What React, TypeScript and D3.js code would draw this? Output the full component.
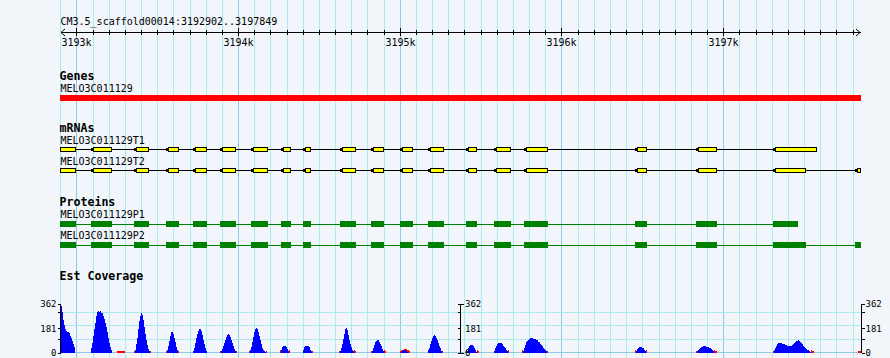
import React from "react";
import * as d3 from "d3";

const W = 890;
const H = 358;

// ---- data ----
const REF_NAME = "CM3.5_scaffold00014";
const VIEW_START = 3192902;
const VIEW_END = 3197849;
const majorTicks = [3193000, 3194000, 3195000, 3196000, 3197000];
const majorTickLabels = ["3193k", "3194k", "3195k", "3196k", "3197k"];

const geneName = "MELO3C011129";
const geneSpan: [number, number] = [3192800, 3197950];

const sharedExons: [number, number][] = [
  [3192850, 3192998], [3193089, 3193218], [3193356, 3193451], [3193552, 3193634],
  [3193723, 3193805], [3193888, 3193987], [3194077, 3194186], [3194265, 3194325],
  [3194403, 3194454], [3194629, 3194732], [3194821, 3194903], [3195000, 3195079],
  [3195175, 3195274], [3195408, 3195480], [3195581, 3195690], [3195766, 3195919],
  [3196452, 3196531], [3196834, 3196963],
];
const mrnaNames = ["MELO3C011129T1", "MELO3C011129T2"];
const t1Exons: [number, number][] = [...sharedExons, [3197311, 3197582]];
const t2Exons: [number, number][] = [...sharedExons, [3197311, 3197514], [3197812, 3197880]];
const t1Span: [number, number] = [3192850, 3197582];
const t2Span: [number, number] = [3192850, 3197880];

const proteinNames = ["MELO3C011129P1", "MELO3C011129P2"];
const p1Cds: [number, number][] = [...sharedExons, [3197311, 3197464]];
const p2Cds: [number, number][] = [...sharedExons, [3197311, 3197514], [3197812, 3197880]];
const p1Span: [number, number] = [3192850, 3197464];
const p2Span: [number, number] = [3192850, 3197880];

const COV_MAX = 362;
const covTickValues = [0, 100, 181, 300, 362];
const covLabels = ["362", "181", "0"];
const covLabelValues = [362, 181, 0];
const covGridValues = [100, 200, 300];
const BIN = 6.18; // bp per coverage bin

type Seg = { start: number; values: number[] };
const estCoverage: Seg[] = [
  { start: 3192902, values: [362, 340, 300, 240, 200, 175, 160, 150, 155, 145, 125, 105, 85, 65, 40] },
  { start: 3193090, values: [30, 70, 120, 170, 220, 270, 300, 305, 300, 305, 295, 290, 270, 245, 220, 190, 150, 110, 70, 40, 20] },
  { start: 3193362, values: [20, 60, 110, 170, 230, 270, 290, 280, 240, 190, 140, 95, 55, 25, 8] },
  { start: 3193560, values: [15, 45, 85, 125, 150, 155, 140, 110, 75, 40, 15] },
  { start: 3193721, values: [10, 35, 70, 105, 135, 160, 170, 172, 160, 130, 95, 60, 35, 12] },
  { start: 3193894, values: [10, 25, 45, 70, 95, 115, 130, 135, 128, 115, 95, 70, 45, 25, 10] },
  { start: 3194076, values: [15, 40, 75, 115, 150, 172, 178, 170, 150, 120, 90, 60, 35, 20, 10, 5] },
  { start: 3194268, values: [20, 38, 45, 45, 45, 40, 25, 10] },
  { start: 3194404, values: [15, 40, 45, 45, 45, 45, 40, 20, 8] },
  { start: 3194632, values: [10, 30, 60, 100, 140, 170, 180, 165, 130, 95, 65, 40, 20, 8] },
  { start: 3194830, values: [10, 30, 55, 75, 88, 92, 90, 80, 65, 45, 28, 12] },
  { start: 3195009, values: [5, 12, 20, 22, 20, 12, 5] },
  { start: 3195176, values: [15, 35, 60, 85, 105, 120, 128, 125, 110, 90, 70, 50, 30, 12] },
  { start: 3195417, values: [10, 30, 50, 58, 58, 55, 45, 30, 15, 5] },
  { start: 3195584, values: [10, 30, 50, 62, 70, 70, 70, 68, 60, 50, 40, 30, 18, 8] },
  { start: 3195763, values: [10, 30, 55, 75, 88, 95, 100, 105, 108, 105, 100, 100, 98, 95, 90, 80, 75, 65, 55, 45, 35, 25, 15, 8] },
  { start: 3196462, values: [10, 25, 35, 40, 40, 38, 35, 30, 20, 10] },
  { start: 3196839, values: [8, 18, 28, 35, 40, 42, 45, 48, 45, 42, 40, 38, 35, 30, 25, 18, 10] },
  { start: 3197315, values: [15, 35, 50, 60, 68, 70, 70, 70, 65, 62, 60, 55, 52, 50, 48, 48, 48, 50, 55, 60, 68, 75, 82, 88, 90, 88, 80, 70, 60, 50, 40, 30, 25, 20, 15, 10, 5] },
];
const estCoverageOther: Seg[] = [
  { start: 3193254, values: [8, 8, 8, 8, 8, 8, 8, 8] },
  { start: 3193356, values: [12] }, { start: 3193455, values: [10] },
  { start: 3193554, values: [10] }, { start: 3193628, values: [10] },
  { start: 3193888, values: [12] }, { start: 3193987, values: [12] },
  { start: 3194070, values: [12] }, { start: 3194175, values: [10] },
  { start: 3194262, values: [15] }, { start: 3194317, values: [15] },
  { start: 3194460, values: [12] },
  { start: 3194626, values: [12] }, { start: 3194718, values: [15, 8] },
  { start: 3194824, values: [12] }, { start: 3194904, values: [15, 8] },
  { start: 3195000, values: [12, 18, 22, 20, 25, 28, 26, 22, 20, 14] },
  { start: 3195263, values: [10] },
  { start: 3195411, values: [15] }, { start: 3195479, values: [15, 8] },
  { start: 3195671, values: [15] },
  { start: 3195757, values: [15] }, { start: 3195911, values: [12] },
  { start: 3196456, values: [15] }, { start: 3196524, values: [15] },
  { start: 3196833, values: [12] }, { start: 3196944, values: [15, 12, 8] },
  { start: 3197309, values: [12] }, { start: 3197544, values: [18, 12, 8] },
  { start: 3197831, values: [10, 10, 10] },
];

// ---- style ----
const BG = "#f2f5fa";
const GRID = "#aaebf0";
const GRID_MAJOR = "#8ecbe4";
const MONO = "'DejaVu Sans Mono', monospace";

export default function App() {
  const xs = d3.scaleLinear().domain([VIEW_START, VIEW_END]).range([60.5, 860.5]);
  const LEFT = 60;
  const RIGHT = 861;
  const cx = (v: number) => Math.max(LEFT, Math.min(RIGHT, xs(v)));
  const ys = d3.scaleLinear().domain([0, COV_MAX]).range([352.5, 303.5]);

  const gridBps = d3.range(3192900, VIEW_END + 1, 100);

  const rulerY = 32.5;

  const transcript = (exons: [number, number][], span: [number, number], cy: number, key: string) => (
    <g key={key}>
      <line x1={cx(span[0])} x2={cx(span[1])} y1={cy} y2={cy} stroke="#000" strokeWidth={1} />
      {exons.map(([s, e], i) => {
        const x0 = cx(s);
        const x1 = cx(e);
        const notch = xs(s) >= LEFT;
        const bx = notch ? x0 + 2 : x0;
        return (
          <g key={i}>
            {notch && <rect x={x0} y={cy - 1.5} width={2.5} height={3} fill="#000" />}
            <rect x={bx + 0.5} y={cy - 2} width={Math.max(1, x1 - bx - 1)} height={4} fill="#ffff00" stroke="#000" strokeWidth={1} />
          </g>
        );
      })}
    </g>
  );

  const protein = (cds: [number, number][], span: [number, number], cy: number, key: string) => (
    <g key={key}>
      <line x1={cx(span[0])} x2={cx(span[1])} y1={cy} y2={cy} stroke="#008000" strokeWidth={1} />
      {cds.map(([s, e], i) => (
        <rect key={i} x={cx(s)} y={cy - 3} width={cx(e) - cx(s)} height={6} fill="#008000" />
      ))}
    </g>
  );

  const bars = (segs: Seg[], color: string) =>
    segs.flatMap((seg, si) =>
      seg.values.map((v, i) => {
        const x0 = cx(seg.start + i * BIN);
        const x1 = cx(seg.start + (i + 1) * BIN);
        if (x1 <= x0) return null;
        return (
          <rect key={`${color}-${si}-${i}`} x={x0} width={x1 - x0} y={ys(v)} height={ys(0) - ys(v)} fill={color} />
        );
      })
    );

  const axis = (ax: number, side: "left" | "mid" | "right", key: string) => (
    <g key={key} stroke="#000" strokeWidth={1}>
      <line x1={ax} x2={ax} y1={ys(COV_MAX)} y2={ys(0)} />
      {covTickValues.map((v) => {
        const y = Math.round(ys(v)) + 0.5;
        const end = v === 0 || v === COV_MAX;
        let x1 = ax, x2 = ax;
        if (side === "left") { x1 = ax - 3; x2 = ax; }
        else if (side === "right") { x1 = ax; x2 = ax + 3; }
        else { x1 = ax - 3; x2 = end ? ax + 3 : ax; }
        return <line key={v} x1={x1} x2={x2} y1={y} y2={y} />;
      })}
    </g>
  );

  const axisLabels = (lx: number, anchor: "start" | "end", key: string) => (
    <g key={key}>
      {covLabels.map((t, i) => (
        <text key={t} x={lx} y={ys(covLabelValues[i]) + 3.5} fontFamily={MONO} fontSize={9} textAnchor={anchor} fill="#000">
          {t}
        </text>
      ))}
    </g>
  );

  return (
    <svg width={W} height={H} style={{ position: "fixed", left: 0, top: 0 }} xmlns="http://www.w3.org/2000/svg">
      <rect x={0} y={0} width={W} height={H} fill={BG} />
      {/* vertical grid */}
      <g shapeRendering="crispEdges">
        {gridBps.map((bp) => {
          const x = Math.round(xs(bp)) + 0.5;
          return <line key={bp} x1={x} x2={x} y1={0} y2={H} stroke={bp % 1000 === 0 ? GRID_MAJOR : GRID} strokeWidth={1} />;
        })}
        {covGridValues.map((v) => {
          const y = Math.round(ys(v)) + 0.5;
          return <line key={v} x1={LEFT} x2={RIGHT} y1={y} y2={y} stroke={GRID} strokeWidth={1} />;
        })}
        <line x1={LEFT} x2={RIGHT} y1={352.5} y2={352.5} stroke={GRID_MAJOR} strokeWidth={1} />
      </g>

      {/* ruler */}
      <text x={60.5} y={25} fontFamily={MONO} fontSize={10} fill="#000">
        {`${REF_NAME}:${VIEW_START}..${VIEW_END}`}
      </text>
      <g stroke="#000" strokeWidth={1} fill="none" shapeRendering="crispEdges">
        <line x1={60.5} x2={860.5} y1={rulerY} y2={rulerY} />
        {gridBps.filter((bp) => bp >= VIEW_START).map((bp) => {
          const x = Math.round(xs(bp)) + 0.5;
          const major = bp % 1000 === 0;
          return <line key={bp} x1={x} x2={x} y1={major ? 28 : 30} y2={major ? 36 : 35} />;
        })}
      </g>
      <path d={`M65,29 L61,32.5 L65,36`} stroke="#000" strokeWidth={1} fill="none" />
      <path d={`M856,29 L860,32.5 L856,36`} stroke="#000" strokeWidth={1} fill="none" />
      {majorTicks.map((bp, i) => (
        <text key={bp} x={Math.round(xs(bp)) + 0.5} y={46} fontFamily={MONO} fontSize={10} textAnchor="middle" fill="#000">
          {majorTickLabels[i]}
        </text>
      ))}

      {/* Genes */}
      <text x={59.5} y={80} fontFamily={MONO} fontSize={11.6} fontWeight="bold" fill="#000">Genes</text>
      <text x={60.5} y={92} fontFamily={MONO} fontSize={10} fill="#000">{geneName}</text>
      <rect x={cx(geneSpan[0])} y={95} width={cx(geneSpan[1]) - cx(geneSpan[0])} height={6} fill="#ff0000" />

      {/* mRNAs */}
      <text x={59.5} y={132} fontFamily={MONO} fontSize={11.6} fontWeight="bold" fill="#000">mRNAs</text>
      <text x={60.5} y={144} fontFamily={MONO} fontSize={10} fill="#000">{mrnaNames[0]}</text>
      <text x={60.5} y={165} fontFamily={MONO} fontSize={10} fill="#000">{mrnaNames[1]}</text>
      <g shapeRendering="crispEdges">
        {transcript(t1Exons, t1Span, 149.5, "t1")}
        {transcript(t2Exons, t2Span, 170.5, "t2")}
      </g>

      {/* Proteins */}
      <text x={59.5} y={206} fontFamily={MONO} fontSize={11.6} fontWeight="bold" fill="#000">Proteins</text>
      <text x={60.5} y={218} fontFamily={MONO} fontSize={10} fill="#000">{proteinNames[0]}</text>
      <text x={60.5} y={239} fontFamily={MONO} fontSize={10} fill="#000">{proteinNames[1]}</text>
      <g shapeRendering="crispEdges">
        {protein(p1Cds, p1Span, 224, "p1")}
        {protein(p2Cds, p2Span, 245, "p2")}
      </g>

      {/* Est Coverage */}
      <text x={59.5} y={280} fontFamily={MONO} fontSize={11.6} fontWeight="bold" fill="#000">Est Coverage</text>
      <g shapeRendering="crispEdges">
        {bars(estCoverageOther, "#ff0000")}
        {bars(estCoverage, "#0000ff")}
        {axis(60.5, "left", "axL")}
        {axis(460.5, "mid", "axM")}
        {axis(861.5, "right", "axR")}
      </g>
      {axisLabels(56.5, "end", "lbL")}
      {axisLabels(465, "start", "lbM")}
      {axisLabels(865.5, "start", "lbR")}
    </svg>
  );
}
